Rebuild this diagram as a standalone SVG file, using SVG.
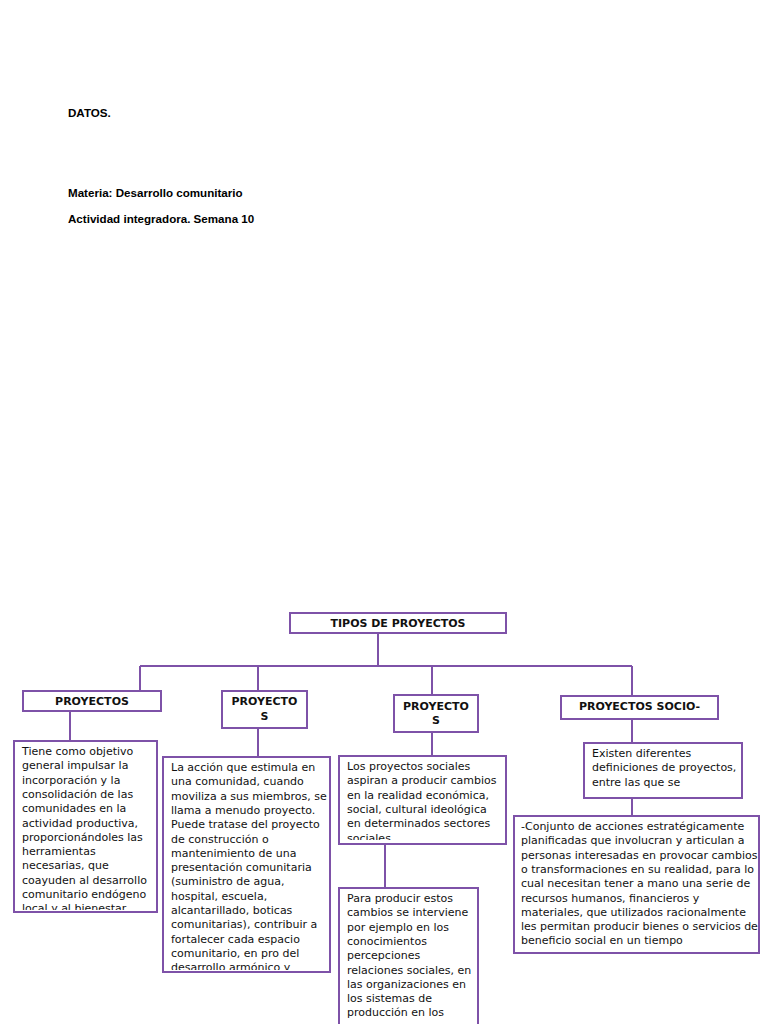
<svg xmlns="http://www.w3.org/2000/svg" width="768" height="1024" viewBox="0 0 768 1024">
<style>
.hdr{font-family:"Liberation Sans",Arial,sans-serif;font-weight:bold;font-size:11.6px;fill:#000}
.box{fill:#fff;stroke:#7e52a8;stroke-width:2}
.ttl{font-family:"DejaVu Sans",sans-serif;font-weight:bold;font-size:11px;fill:#111;text-anchor:middle}
.txt{font-family:"DejaVu Sans",sans-serif;font-size:11px;fill:#111}
.ln{stroke:#7e52a8;stroke-width:2;fill:none}
</style>
<defs>
<clipPath id="c1"><rect x="15" y="742" width="141" height="168"/></clipPath>
<clipPath id="c2"><rect x="164" y="758" width="165" height="212"/></clipPath>
<clipPath id="c3"><rect x="340" y="757" width="165" height="83"/></clipPath>
<clipPath id="c4"><rect x="585" y="744" width="156" height="53"/></clipPath>
</defs>
<rect width="768" height="1024" fill="#fff"/>
<g id="header">
<text class="hdr" x="68" y="117">DATOS.</text>
<text class="hdr" x="68" y="197">Materia: Desarrollo comunitario</text>
<text class="hdr" x="68" y="223">Actividad integradora. Semana 10</text>
</g>
<g id="connectors">
<path class="ln" d="M378 633V666M140 666H632M140 666V691M258 666V691M432 666V695M632 666V696"/>
<path class="ln" d="M70 711V741M258 728V757M432 732V756M385 844V888M632 719V743M632 798V816"/>
</g>
<g id="root">
<rect class="box" x="290" y="613" width="216" height="20"/>
<text class="ttl" x="398" y="627">TIPOS DE PROYECTOS</text>
</g>
<g id="t1">
<rect class="box" x="23" y="691" width="138" height="20"/>
<text class="ttl" x="92" y="705">PROYECTOS</text>
</g>
<g id="t2">
<rect class="box" x="222" y="691" width="85" height="37"/>
<text class="ttl" x="264.5" y="705">PROYECTO</text>
<text class="ttl" x="264.5" y="720">S</text>
</g>
<g id="t3">
<rect class="box" x="394" y="695" width="84" height="37"/>
<text class="ttl" x="436" y="710">PROYECTO</text>
<text class="ttl" x="436" y="724">S</text>
</g>
<g id="t4">
<rect class="box" x="561" y="696" width="157" height="23"/>
<text class="ttl" x="639.5" y="710">PROYECTOS SOCIO-</text>
</g>
<g id="d1">
<rect class="box" x="14" y="741" width="143" height="171"/>
<text class="txt" clip-path="url(#c1)">
<tspan x="22" y="755">Tiene como objetivo</tspan>
<tspan x="22" y="769.3">general impulsar la</tspan>
<tspan x="22" y="783.6">incorporación y la</tspan>
<tspan x="22" y="797.9">consolidación de las</tspan>
<tspan x="22" y="812.2">comunidades en la</tspan>
<tspan x="22" y="826.5">actividad productiva,</tspan>
<tspan x="22" y="840.8">proporcionándoles las</tspan>
<tspan x="22" y="855.1">herramientas</tspan>
<tspan x="22" y="869.4">necesarias, que</tspan>
<tspan x="22" y="883.7">coayuden al desarrollo</tspan>
<tspan x="22" y="898">comunitario endógeno</tspan>
<tspan x="22" y="912.3">local y al bienestar</tspan>
</text>
</g>
<g id="d2">
<rect class="box" x="163" y="757" width="167" height="215"/>
<text class="txt" clip-path="url(#c2)">
<tspan x="171" y="771">La acción que estimula en</tspan>
<tspan x="171" y="785.3">una comunidad, cuando</tspan>
<tspan x="171" y="799.6">moviliza a sus miembros, se</tspan>
<tspan x="171" y="813.9">llama a menudo proyecto.</tspan>
<tspan x="171" y="828.2">Puede tratase del proyecto</tspan>
<tspan x="171" y="842.5">de construcción o</tspan>
<tspan x="171" y="856.8">mantenimiento de una</tspan>
<tspan x="171" y="871.1">presentación comunitaria</tspan>
<tspan x="171" y="885.4">(suministro de agua,</tspan>
<tspan x="171" y="899.7">hospital, escuela,</tspan>
<tspan x="171" y="914">alcantarillado, boticas</tspan>
<tspan x="171" y="928.3">comunitarias), contribuir a</tspan>
<tspan x="171" y="942.6">fortalecer cada espacio</tspan>
<tspan x="171" y="956.9">comunitario, en pro del</tspan>
<tspan x="171" y="971.2">desarrollo armónico y</tspan>
</text>
</g>
<g id="d3">
<rect class="box" x="339" y="756" width="167" height="88"/>
<text class="txt" clip-path="url(#c3)">
<tspan x="347" y="770">Los proyectos sociales</tspan>
<tspan x="347" y="784.3">aspiran a producir cambios</tspan>
<tspan x="347" y="798.6">en la realidad económica,</tspan>
<tspan x="347" y="812.9">social, cultural ideológica</tspan>
<tspan x="347" y="827.2">en determinados sectores</tspan>
<tspan x="347" y="841.5">sociales</tspan>
</text>
</g>
<g id="d3b">
<rect class="box" x="339" y="888" width="139" height="150"/>
<text class="txt">
<tspan x="347" y="902">Para producir estos</tspan>
<tspan x="347" y="916.3">cambios se interviene</tspan>
<tspan x="347" y="930.6">por ejemplo en los</tspan>
<tspan x="347" y="944.9">conocimientos</tspan>
<tspan x="347" y="959.2">percepciones</tspan>
<tspan x="347" y="973.5">relaciones sociales, en</tspan>
<tspan x="347" y="987.8">las organizaciones en</tspan>
<tspan x="347" y="1002.1">los sistemas de</tspan>
<tspan x="347" y="1016.4">producción en los</tspan>
</text>
</g>
<g id="d4">
<rect class="box" x="584" y="743" width="158" height="55"/>
<text class="txt" clip-path="url(#c4)">
<tspan x="592" y="757">Existen diferentes</tspan>
<tspan x="592" y="771.3">definiciones de proyectos,</tspan>
<tspan x="592" y="785.6">entre las que se</tspan>
</text>
</g>
<g id="d4b">
<rect class="box" x="514" y="816" width="245" height="137"/>
<text class="txt">
<tspan x="521" y="830">-Conjunto de acciones estratégicamente</tspan>
<tspan x="521" y="844.3">planificadas que involucran y articulan a</tspan>
<tspan x="521" y="858.6">personas interesadas en provocar cambios</tspan>
<tspan x="521" y="872.9">o transformaciones en su realidad, para lo</tspan>
<tspan x="521" y="887.2">cual necesitan tener a mano una serie de</tspan>
<tspan x="521" y="901.5">recursos humanos, financieros y</tspan>
<tspan x="521" y="915.8">materiales, que utilizados racionalmente</tspan>
<tspan x="521" y="930.1">les permitan producir bienes o servicios de</tspan>
<tspan x="521" y="944.4">beneficio social en un tiempo</tspan>
</text>
</g>
</svg>
